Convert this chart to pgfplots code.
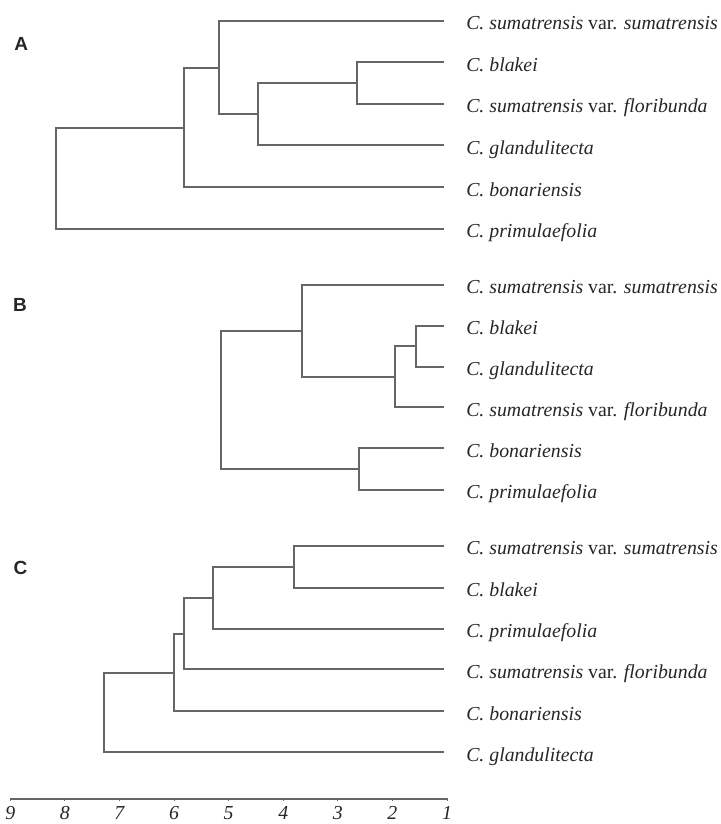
\documentclass[border=0pt]{standalone}
\usepackage{pgfplots}
\pgfplotsset{compat=1.18}
\usepackage{fontspec}
\setmainfont{Liberation Serif}
\newfontfamily\panelfont{Liberation Sans}
\newcommand{\spc}[1]{{\itshape C. #1}}
\newcommand{\spv}[2]{{\itshape C. #1} var. {\itshape #2}}
\begin{document}
\begin{tikzpicture}
\begin{axis}[
  scale only axis,
  x=27.3pt, y=0.5pt,
  xmin=1, xmax=9, ymin=25, ymax=824,
  x dir=reverse,
  axis x line=bottom, axis y line=none,
  x axis line style={-, black!60, line width=1pt},
  clip=false,
  xtick={1,2,3,4,5,6,7,8,9},
  major tick length=1.5pt,
  tick align=center,
  tick style={black!60, line width=0.5pt},
  /pgf/number format/assume math mode=true,
  xticklabel style={font=\fontsize{9.9pt}{12pt}\selectfont\itshape, text=black!85, yshift=0.5pt},
  br/.style={black!60, line width=1pt, solid, mark=none, sharp plot},
]
% Panel A
\addplot[br] coordinates {(1.05,761.5) (2.64,761.5) (2.64,720) (1.05,720)};
\addplot[br] coordinates {(2.64,740.75) (4.47,740.75) (4.47,678.5) (1.05,678.5)};
\addplot[br] coordinates {(1.05,803) (5.18,803) (5.18,709.63) (4.47,709.63)};
\addplot[br] coordinates {(5.18,756.31) (5.82,756.31) (5.82,636.5) (1.05,636.5)};
\addplot[br] coordinates {(5.82,696.41) (8.16,696.41) (8.16,595) (1.05,595)};
% Panel B
\addplot[br] coordinates {(1.05,498) (1.57,498) (1.57,457) (1.05,457)};
\addplot[br] coordinates {(1.57,477.5) (1.95,477.5) (1.95,416.5) (1.05,416.5)};
\addplot[br] coordinates {(1.05,539) (3.66,539) (3.66,447) (1.95,447)};
\addplot[br] coordinates {(1.05,375.5) (2.61,375.5) (2.61,334) (1.05,334)};
\addplot[br] coordinates {(3.66,493) (5.14,493) (5.14,354.75) (2.61,354.75)};
% Panel C
\addplot[br] coordinates {(1.05,278) (3.80,278) (3.80,236) (1.05,236)};
\addplot[br] coordinates {(3.80,257) (5.28,257) (5.28,195) (1.05,195)};
\addplot[br] coordinates {(5.28,226) (5.81,226) (5.81,154.5) (1.05,154.5)};
\addplot[br] coordinates {(5.81,190.25) (6.0,190.25) (6.0,112.5) (1.05,112.5)};
\addplot[br] coordinates {(6.0,151.38) (7.28,151.38) (7.28,72) (1.05,72)};

\tikzset{leaf/.style={anchor=base west, inner sep=0pt, xshift=10.8pt, yshift=-4.5pt,
  font=\fontsize{9.9pt}{12pt}\selectfont, text=black!85},
  panel/.style={inner sep=0pt, font=\panelfont\bfseries\fontsize{9.5pt}{11pt}\selectfont, text=black!85}}
% leaf labels A
\node[leaf] at (axis cs:1.05,803) {\spv{sumatrensis}{sumatrensis}};
\node[leaf] at (axis cs:1.05,761.5) {\spc{blakei}};
\node[leaf] at (axis cs:1.05,720) {\spv{sumatrensis}{floribunda}};
\node[leaf] at (axis cs:1.05,678.5) {\spc{glandulitecta}};
\node[leaf] at (axis cs:1.05,636.5) {\spc{bonariensis}};
\node[leaf] at (axis cs:1.05,595) {\spc{primulaefolia}};
% leaf labels B
\node[leaf] at (axis cs:1.05,539) {\spv{sumatrensis}{sumatrensis}};
\node[leaf] at (axis cs:1.05,498) {\spc{blakei}};
\node[leaf] at (axis cs:1.05,457) {\spc{glandulitecta}};
\node[leaf] at (axis cs:1.05,416.5) {\spv{sumatrensis}{floribunda}};
\node[leaf] at (axis cs:1.05,375.5) {\spc{bonariensis}};
\node[leaf] at (axis cs:1.05,334) {\spc{primulaefolia}};
% leaf labels C
\node[leaf] at (axis cs:1.05,278) {\spv{sumatrensis}{sumatrensis}};
\node[leaf] at (axis cs:1.05,236) {\spc{blakei}};
\node[leaf] at (axis cs:1.05,195) {\spc{primulaefolia}};
\node[leaf] at (axis cs:1.05,154.5) {\spv{sumatrensis}{floribunda}};
\node[leaf] at (axis cs:1.05,112.5) {\spc{bonariensis}};
\node[leaf] at (axis cs:1.05,72) {\spc{glandulitecta}};
% panel labels
\node[panel] at (axis cs:8.80,780) {A};
\node[panel] at (axis cs:8.82,519) {B};
\node[panel] at (axis cs:8.81,256) {C};
\coordinate (bbSW) at (axis cs:9.187,0);
\coordinate (bbNE) at (axis cs:-4.018,824);
\end{axis}
\pgfresetboundingbox
\path[use as bounding box] (bbSW) rectangle (bbNE);
\end{tikzpicture}
\end{document}
